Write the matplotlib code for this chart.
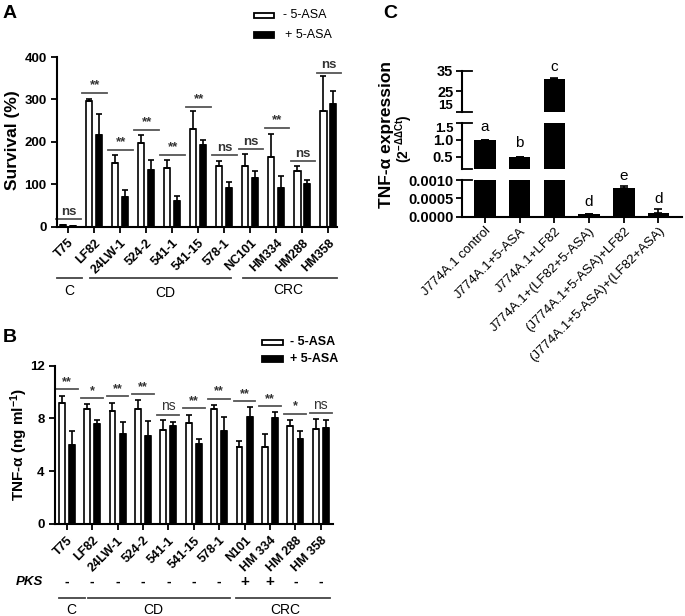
import numpy as np
import matplotlib
matplotlib.use("Agg")
import matplotlib.pyplot as plt
from matplotlib.patches import Rectangle

plt.rcParams['font.family'] = ['Liberation Sans', 'DejaVu Sans']
plt.rcParams['mathtext.default'] = 'regular'

# ---- Panel A data: survival (%) ----
strains_a = ['T75', 'LF82', '24LW-1', '524-2', '541-1', '541-15', '578-1',
             'NC101', 'HM334', 'HM288', 'HM358']
surv_minus = [3, 295, 150, 198, 138, 230, 142, 142, 163, 132, 273]
surv_minus_err = [0, 5, 18, 18, 19, 43, 13, 30, 55, 10, 83]
surv_plus = [2, 216, 70, 133, 61, 192, 92, 115, 90, 101, 288]
surv_plus_err = [0, 49, 16, 23, 10, 13, 13, 15, 28, 9, 32]
sig_a = ['ns', '**', '**', '**', '**', '**', 'ns', 'ns', '**', 'ns', 'ns']
sig_a_y = [17, 315, 180, 227, 168, 283, 168, 182, 232, 154, 362]

# ---- Panel B data: TNF-alpha (ng/ml) ----
strains_b = ['T75', 'LF82', '24LW-1', '524-2', '541-1', '541-15', '578-1',
             'N101', 'HM 334', 'HM 288', 'HM 358']
tnf_minus = [9.2, 8.7, 8.56, 8.7, 7.1, 7.65, 8.75, 5.85, 5.85, 7.45, 7.2]
tnf_minus_err = [0.5, 0.37, 0.64, 0.67, 0.8, 0.58, 0.25, 0.42, 1.0, 0.45, 0.75]
tnf_plus = [6.0, 7.6, 6.8, 6.64, 7.42, 6.03, 7.07, 8.1, 8.03, 6.43, 7.3]
tnf_plus_err = [1.05, 0.3, 0.9, 1.2, 0.31, 0.41, 1.06, 0.8, 0.43, 0.62, 0.55]
sig_b = ['**', '*', '**', '**', 'ns', '**', '**', '**', '**', '*', 'ns']
sig_b_y = [10.2, 9.57, 9.67, 9.87, 8.3, 8.76, 9.5, 9.3, 8.96, 8.36, 8.38]
pks = ['-', '-', '-', '-', '-', '-', '-', '+', '+', '-', '-']

# ---- Panel C data: TNF-alpha expression (2^-ddCt) ----
conds_c = ['J774A.1 control', 'J774A.1+5-ASA', 'J774A.1+LF82',
           'J774A.1+(LF82+5-ASA)', '(J774A.1+5-ASA)+LF82',
           '(J774A.1+5-ASA)+(LF82+ASA)']
expr_c = [1.0, 0.48, 31.1, 0.00006, 0.00077, 0.00011]
expr_c_err = [0.0, 0.02, 0.4, 0.0, 0.00008, 0.00009]
letters_c = ['a', 'b', 'c', 'd', 'e', 'd']

W, H = 685, 616
fig = plt.figure(figsize=(W / 100, H / 100), dpi=100)


def px_axes(x0, y0, x1, y1):
    return fig.add_axes([x0 / W, 1 - y1 / H, (x1 - x0) / W, (y1 - y0) / H])


def ftext(x, y, s, **kw):
    fig.text(x / W, 1 - y / H, s, **kw)


def fline(x0, x1, y, color='#444444', lw=1.3):
    fig.add_artist(plt.Line2D([x0 / W, x1 / W], [1 - y / H, 1 - y / H],
                              color=color, lw=lw))


def frect(x0, y0, w, h, fc):
    fig.add_artist(Rectangle((x0 / W, 1 - (y0 + h) / H), w / W, h / H,
                             transform=fig.transFigure, facecolor=fc,
                             edgecolor='black', lw=1.3))


def paired_bars(ax, minus, minus_err, plus, plus_err, off, wd):
    x = np.arange(len(minus))
    ax.bar(x - off, minus, wd, color='white', edgecolor='black', lw=1.2, zorder=2)
    ax.bar(x + off, plus, wd, color='black', edgecolor='black', lw=1.2, zorder=2)
    ax.errorbar(x - off, minus, yerr=[np.zeros(len(x)), minus_err], fmt='none',
                ecolor='black', elinewidth=1.2, capsize=2, capthick=1.2, zorder=3)
    ax.errorbar(x + off, plus, yerr=[np.zeros(len(x)), plus_err], fmt='none',
                ecolor='black', elinewidth=1.2, capsize=2, capthick=1.2, zorder=3)


def style_axes(ax):
    for s in ['top', 'right']:
        ax.spines[s].set_visible(False)
    for s in ['left', 'bottom']:
        ax.spines[s].set_linewidth(1.5)
    ax.tick_params(width=1.3, length=4)


# ================= Panel A =================
axA = px_axes(57, 57, 337, 226.5)
paired_bars(axA, surv_minus, surv_minus_err, surv_plus, surv_plus_err, 0.19, 0.24)
for i, (s, y) in enumerate(zip(sig_a, sig_a_y)):
    axA.plot([i - 0.45, i + 0.5], [y, y], color='#555555', lw=1.3, clip_on=False)
    axA.text(i + 0.03, y + 4, s, ha='center', va='bottom', fontsize=9.5,
             fontweight='bold', color='#333333')
axA.set_xlim(-0.42, 10.33)
axA.set_ylim(0, 400)
axA.set_yticks([0, 100, 200, 300, 400])
axA.set_xticks(range(len(strains_a)))
axA.set_xticklabels(strains_a, rotation=45, ha='right', rotation_mode='anchor',
                    fontsize=9, fontweight='bold')
for lab in axA.get_yticklabels():
    lab.set_fontweight('bold')
    lab.set_fontsize(9.5)
style_axes(axA)
ftext(12, 140, 'Survival (%)', rotation=90, ha='center', va='center',
      fontsize=12.5, fontweight='bold')
ftext(3, 14, 'A', fontsize=14, fontweight='bold', va='center')

# legend A
frect(254, 13, 20, 5, 'white')
frect(254, 32, 20, 6, 'black')
ftext(283, 15.5, '- 5-ASA', fontsize=9, va='center')
ftext(285, 35, '+ 5-ASA', fontsize=9, va='center')

# group lines A
fline(57, 82, 278)
fline(90, 231, 278)
fline(243, 337, 278)
ftext(69, 291, 'C', fontsize=10, ha='center', va='center')
ftext(165, 293, 'CD', fontsize=10, ha='center', va='center')
ftext(288, 290, 'CRC', fontsize=10, ha='center', va='center')

# ================= Panel B =================
axB = px_axes(55, 365.7, 333, 524)
paired_bars(axB, tnf_minus, tnf_minus_err, tnf_plus, tnf_plus_err, 0.2, 0.23)
for i, (s, y) in enumerate(zip(sig_b, sig_b_y)):
    axB.plot([i - 0.43, i + 0.43], [y, y], color='#555555', lw=1.3, clip_on=False)
    axB.text(i, y + 0.08, s, ha='center', va='bottom', fontsize=10 if s == 'ns' else 9,
             fontweight='normal' if s == 'ns' else 'bold', color='#333333')
axB.set_xlim(-0.46, 10.48)
axB.set_ylim(0, 12)
axB.set_yticks([0, 4, 8, 12])
axB.set_xticks(range(len(strains_b)))
axB.set_xticklabels(strains_b, rotation=45, ha='right', rotation_mode='anchor',
                    fontsize=9, fontweight='bold')
for lab in axB.get_yticklabels():
    lab.set_fontweight('bold')
    lab.set_fontsize(9.5)
style_axes(axB)
ftext(19, 444, 'TNF-α (ng ml$^{-1}$)', rotation=90, ha='center', va='center',
      fontsize=11, fontweight='bold')
ftext(3, 338, 'B', fontsize=14, fontweight='bold', va='center')

frect(262, 340, 21, 5, 'white')
frect(262, 356, 21, 6, 'black')
ftext(290, 342, '- 5-ASA', fontsize=9, va='center', fontweight='bold')
ftext(290, 359, '+ 5-ASA', fontsize=9, va='center', fontweight='bold')

# PKS row
ftext(29, 582, 'PKS', fontsize=9.5, style='italic', fontweight='bold', ha='center', va='center')
for i, p in enumerate(pks):
    xd = axB.transData.transform((i, 0))[0]
    ftext(xd * W / fig.bbox.width, 582, p, fontsize=11 if p == '+' else 10,
          fontweight='bold', ha='center', va='center')

fline(59, 85, 598)
fline(88, 230, 598)
fline(236, 330, 598)
ftext(71, 610, 'C', fontsize=10, ha='center', va='center')
ftext(153, 610, 'CD', fontsize=10, ha='center', va='center')
ftext(285, 610, 'CRC', fontsize=10, ha='center', va='center')

# ================= Panel C =================
xc = np.arange(len(conds_c))
segs = [(70.7, 112, (15, 35), [15, 25, 35], ['15', '25', '35']),
        (123.3, 169, (0.13, 1.5), [0.5, 1.0, 1.5], ['0.5', '1.0', '1.5']),
        (180, 216.7, (0, 0.001), [0, 0.0005, 0.001], ['0.0000', '0.0005', '0.0010'])]
axesC = []
for (y0, y1, lim, ticks, labels) in segs:
    ax = px_axes(461.7, y0, 681.7, y1)
    ax.bar(xc, expr_c, 0.62, color='black', zorder=2)
    ax.errorbar(xc, expr_c, yerr=[np.zeros(len(xc)), expr_c_err], fmt='none',
                ecolor='black', elinewidth=1.2, capsize=3, capthick=1.2, zorder=3)
    ax.set_xlim(-0.67, 5.67)
    ax.set_ylim(*lim)
    ax.set_yticks(ticks)
    ax.set_yticklabels(labels, fontsize=10.5, fontweight='bold')
    ax.spines['top'].set_visible(False)
    ax.spines['right'].set_visible(False)
    ax.spines['left'].set_linewidth(1.5)
    ax.tick_params(width=1.3, length=4, pad=2)
    axesC.append(ax)

# keep "15" and "1.5" from running into each other at the break
axesC[0].get_yticklabels()[0].set_verticalalignment('bottom')
axesC[0].get_yticklabels()[0].set_fontsize(9.5)
axesC[1].get_yticklabels()[2].set_verticalalignment('top')
axesC[1].get_yticklabels()[2].set_fontsize(9.5)

for ax in axesC[:2]:
    ax.spines['bottom'].set_visible(False)
    ax.set_xticks([])
    # short end caps of broken axis
    ax.plot([0, 0.045], [0, 0], transform=ax.transAxes, color='black', lw=1.3, clip_on=False)
    ax.plot([0, 0.045], [1, 1], transform=ax.transAxes, color='black', lw=1.3, clip_on=False)
axesC[2].plot([0, 0.045], [1, 1], transform=axesC[2].transAxes, color='black', lw=1.3,
              clip_on=False)
axesC[2].spines['bottom'].set_linewidth(1.5)
axesC[2].set_xticks(xc)
axesC[2].set_xticklabels(conds_c, rotation=45, ha='right', rotation_mode='anchor',
                         fontsize=9.5)

# letters above bars
axesC[1].text(0, 1.18, letters_c[0], ha='center', va='bottom', fontsize=11)
axesC[1].text(1, 0.7, letters_c[1], ha='center', va='bottom', fontsize=11)
axesC[0].text(2, 33.6, letters_c[2], ha='center', va='bottom', fontsize=11, clip_on=False)
axesC[2].text(3, 0.0002, letters_c[3], ha='center', va='bottom', fontsize=11)
axesC[2].text(4, 0.00092, letters_c[4], ha='center', va='bottom', fontsize=11)
axesC[2].text(5, 0.00029, letters_c[5], ha='center', va='bottom', fontsize=11)

ftext(386, 135, 'TNF-α expression', rotation=90, ha='center', va='center',
      fontsize=12.5, fontweight='bold')
ftext(404, 139, '(2$^{-ΔΔCt}$)', rotation=90, ha='center', va='center',
      fontsize=10, fontweight='bold')
ftext(383, 14, 'C', fontsize=14, fontweight='bold', va='center')

fig.savefig('out.png', dpi=100)
